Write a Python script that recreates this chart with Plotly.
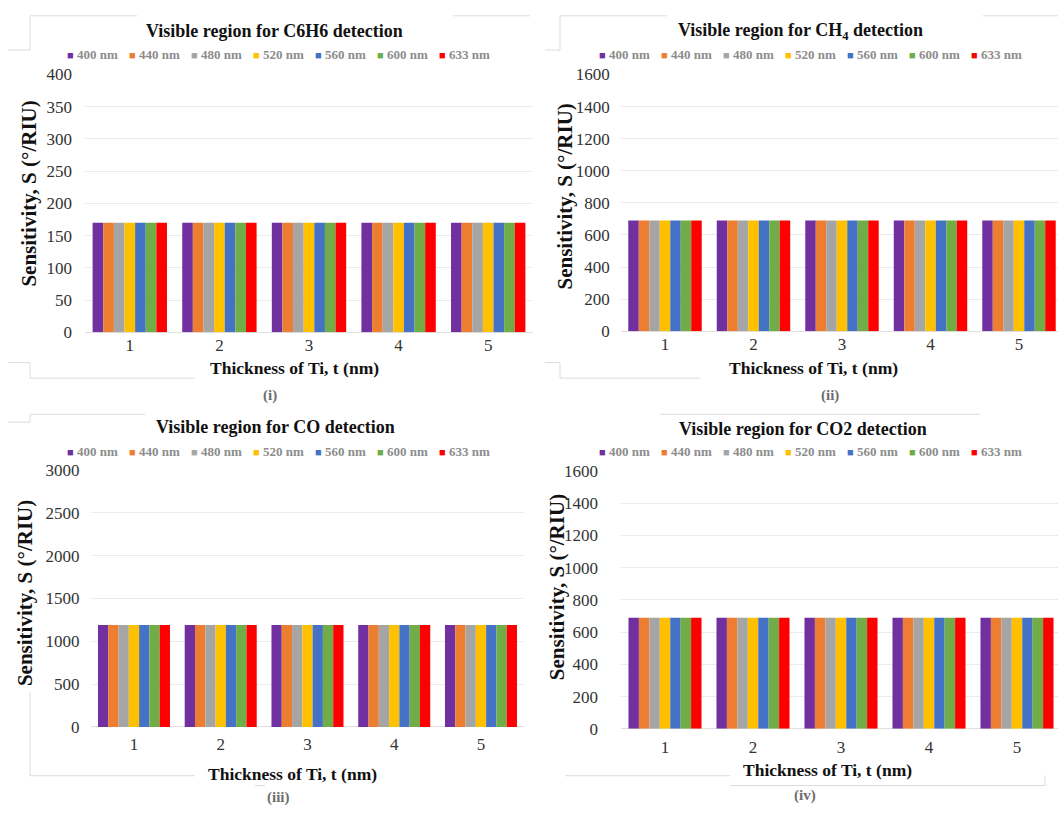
import plotly.graph_objects as go

W, H = 1058, 816

# ---- data -------------------------------------------------------------
thickness = [1, 2, 3, 4, 5]
thickness_labels = ["1", "2", "3", "4", "5"]
wavelengths = ["400 nm", "440 nm", "480 nm", "520 nm", "560 nm", "600 nm", "633 nm"]
bar_colors = ["#7030A0", "#ED7D31", "#A5A5A5", "#FFC000", "#4472C4", "#70AD47", "#FF0000"]

# Sensitivity S (deg/RIU): one row per wavelength, one value per Ti thickness
S_C6H6 = [
    [170, 170, 170, 170, 170],
    [170, 170, 170, 170, 170],
    [170, 170, 170, 170, 170],
    [170, 170, 170, 170, 170],
    [170, 170, 170, 170, 170],
    [170, 170, 170, 170, 170],
    [170, 170, 170, 170, 170],
]
S_CH4 = [
    [690, 690, 690, 690, 690],
    [690, 690, 690, 690, 690],
    [690, 690, 690, 690, 690],
    [690, 690, 690, 690, 690],
    [690, 690, 690, 690, 690],
    [690, 690, 690, 690, 690],
    [690, 690, 690, 690, 690],
]
S_CO = [
    [1190, 1190, 1190, 1190, 1190],
    [1190, 1190, 1190, 1190, 1190],
    [1190, 1190, 1190, 1190, 1190],
    [1190, 1190, 1190, 1190, 1190],
    [1190, 1190, 1190, 1190, 1190],
    [1190, 1190, 1190, 1190, 1190],
    [1190, 1190, 1190, 1190, 1190],
]
S_CO2 = [
    [690, 690, 690, 690, 690],
    [690, 690, 690, 690, 690],
    [690, 690, 690, 690, 690],
    [690, 690, 690, 690, 690],
    [690, 690, 690, 690, 690],
    [690, 690, 690, 690, 690],
    [690, 690, 690, 690, 690],
]

ticks_c6h6 = [0, 50, 100, 150, 200, 250, 300, 350, 400]
ticks_ch4 = [0, 200, 400, 600, 800, 1000, 1200, 1400, 1600]
ticks_co = [0, 500, 1000, 1500, 2000, 2500, 3000]
ticks_co2 = [0, 200, 400, 600, 800, 1000, 1200, 1400, 1600]

# ---- panel layout (pixel geometry) -------------------------------------
panels = [
    dict(title="Visible region for C6H6 detection", data=S_C6H6, yticks=ticks_c6h6,
         x0=85, x1=533, step=89.6, y0=67, y1=331, standoff=12, xstandoff=1,
         title_xy=(274, 23), legend_xy=(65, 47), ytitle_xy=(29, 189),
         xtitle_xy=(294, 368), cap="(i)", cap_xy=(270, 396)),
    dict(title="Visible region for CH<sub>4</sub> detection", data=S_CH4, yticks=ticks_ch4,
         x0=620.75, x1=1058, step=88.5, y0=67, y1=330, standoff=10, xstandoff=1,
         title_xy=(800, 23), legend_xy=(597, 47), ytitle_xy=(565, 192),
         xtitle_xy=(813, 368), cap="(ii)", cap_xy=(830, 396)),
    dict(title="Visible region for CO detection", data=S_CO, yticks=ticks_co,
         x0=90.6, x1=524.4, step=86.75, y0=472, y1=735, standoff=10, xstandoff=5,
         title_xy=(275, 428), legend_xy=(65, 453), ytitle_xy=(25, 598),
         xtitle_xy=(292, 783), cap="(iii)", cap_xy=(278, 807)),
    dict(title="Visible region for CO2 detection", data=S_CO2, yticks=ticks_co2,
         x0=621, x1=1058, step=88.0, y0=473, y1=737, standoff=22, xstandoff=6,
         title_xy=(803, 430), legend_xy=(597, 453), ytitle_xy=(557, 592),
         xtitle_xy=(827, 779), cap="(iv)", cap_xy=(805, 805)),
]

SERIF = "Liberation Serif"
LEGEND_STEP = 62


def fx(px):
    return px / W


def fy(py):
    return 1 - py / H


fig = go.Figure()
annotations = []
layout_axes = {}

for k, p in enumerate(panels, start=1):
    xa = "x" if k == 1 else f"x{k}"
    ya = "y" if k == 1 else f"y{k}"
    for wl, col, vals in zip(wavelengths, bar_colors, p["data"]):
        fig.add_trace(go.Bar(
            x=thickness, y=vals, name=wl, marker=dict(color=col, line=dict(width=0)),
            xaxis=xa, yaxis=ya, showlegend=False,
        ))

    xr_hi = 0.5 + (p["x1"] - p["x0"]) / p["step"]
    layout_axes["xaxis" if k == 1 else f"xaxis{k}"] = dict(
        domain=[fx(p["x0"]), fx(p["x1"])], range=[0.5, xr_hi], anchor=ya,
        tickvals=thickness, ticktext=thickness_labels, showgrid=False,
        showline=False, zeroline=False, ticks="", ticklabelstandoff=p["xstandoff"],
        tickfont=dict(family=SERIF, size=17, color="#333333"),
    )
    yt = p["yticks"]
    layout_axes["yaxis" if k == 1 else f"yaxis{k}"] = dict(
        domain=[fy(p["y1"]), fy(p["y0"])], range=[yt[0], yt[-1]], anchor=xa,
        tickvals=yt, ticktext=[str(v) for v in yt], showgrid=True,
        gridcolor="#ebebeb", gridwidth=1, zeroline=True, zerolinecolor="#e0e0e0",
        zerolinewidth=1, showline=False, ticks="", ticklabelstandoff=p["standoff"],
        tickfont=dict(family=SERIF, size=17, color="#333333"),
    )

    # chart title
    tx, ty = p["title_xy"]
    annotations.append(dict(
        text=f"<b>{p['title']}</b>", x=fx(tx), y=fy(ty), xref="paper", yref="paper",
        xanchor="center", yanchor="middle", showarrow=False,
        font=dict(family=SERIF, size=18, color="#111111"),
    ))
    # legend row
    lx, ly = p["legend_xy"]
    for i, (wl, col) in enumerate(zip(wavelengths, bar_colors)):
        annotations.append(dict(
            text=f"<span style='color:{col};font-size:11px'>■</span> <b>{wl}</b>",
            x=fx(lx + LEGEND_STEP * i), y=fy(ly), xref="paper", yref="paper",
            xanchor="left", yanchor="middle", showarrow=False,
            font=dict(family=SERIF, size=13, color="#8c8c8c"),
        ))
    # axis titles
    yx, yy = p["ytitle_xy"]
    annotations.append(dict(
        text="<b>Sensitivity, S (°/RIU)</b>", x=fx(yx), y=fy(yy), xref="paper", yref="paper",
        xanchor="center", yanchor="middle", textangle=-90, showarrow=False,
        font=dict(family=SERIF, size=21, color="#111111"),
    ))
    xx, xy = p["xtitle_xy"]
    annotations.append(dict(
        text="<b>Thickness of Ti, t (nm)</b>", x=fx(xx), y=fy(xy), xref="paper", yref="paper",
        xanchor="center", yanchor="middle", showarrow=False,
        font=dict(family=SERIF, size=17.5, color="#111111"),
    ))
    cx, cy = p["cap_xy"]
    annotations.append(dict(
        text=f"<b>{p['cap']}</b>", x=fx(cx), y=fy(cy), xref="paper", yref="paper",
        xanchor="center", yanchor="middle", showarrow=False,
        font=dict(family=SERIF, size=15, color="#6e6e6e"),
    ))

# faint frame edges around the chart panels
frame_lines = [
    (30, 7, 137, 7), (453, 7, 530, 7), (8, 42, 30, 42), (30, 7, 30, 42),
    (560, 7, 667, 7), (983, 7, 1058, 7), (545, 42, 560, 42), (560, 7, 560, 42),
    (8, 362, 30, 362), (30, 362, 30, 378), (30, 378, 195, 378),
    (545, 362, 560, 362), (560, 362, 560, 378), (560, 378, 700, 378),
    (8, 423, 30, 423), (30, 415, 30, 423), (30, 415, 145, 415),
    (660, 415, 980, 415),
    (30, 785, 195, 785), (30, 700, 30, 785), (255, 795, 265, 795),
    (565, 785, 730, 785), (730, 795, 1045, 795), (1045, 785, 1045, 795),
]
shapes = [
    dict(type="line", xref="paper", yref="paper", x0=fx(a), y0=fy(b), x1=fx(c), y1=fy(d),
         line=dict(color="#dcdcdc", width=1), layer="below")
    for a, b, c, d in frame_lines
]

fig.update_layout(
    width=W, height=H, margin=dict(l=0, r=0, t=0, b=0),
    paper_bgcolor="white", plot_bgcolor="white",
    font=dict(family=SERIF),
    barmode="group", bargap=0.17, bargroupgap=0,
    annotations=annotations, shapes=shapes, showlegend=False,
    **layout_axes,
)

fig.write_html("out.html")
